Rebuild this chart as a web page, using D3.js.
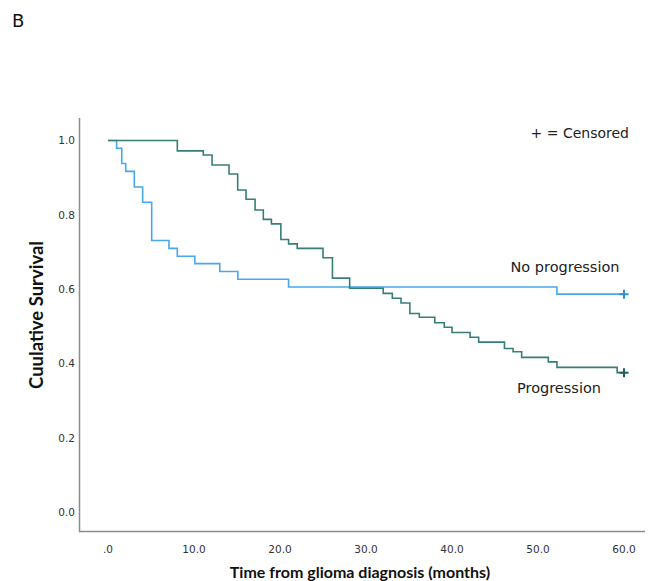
<!DOCTYPE html>
<html>
<head>
<meta charset="utf-8">
<script src="https://cdn.jsdelivr.net/npm/d3@7"></script>
<style>
  body { margin: 0; background: #fff; }
  svg { font-family: "DejaVu Sans", "Noto Sans", sans-serif; }
</style>
</head>
<body>
<div id="chart"></div>
<script>
// Kaplan-Meier step data (time in months, cumulative survival)
var noProgTimes = [0, 1.0, 1.6, 2.06, 3.06, 4.03, 5.08, 7.09, 8.06, 10.1, 13.0, 15.1, 21.0, 52.2, 60];
var noProgSurv  = [1, 0.979, 0.938, 0.917, 0.875, 0.834, 0.731, 0.710, 0.689, 0.669, 0.648, 0.627, 0.606, 0.587, 0.587];

var progTimes = [0, 8.06, 11.08, 12.1, 14.07, 15.08, 16.05, 17.1, 18.06, 19.0, 20.1, 21.0, 22.0, 25.0, 26.1, 28.1,
                 32.0, 33.06, 34.07, 35.1, 36.2, 38.0, 39.1, 40.0, 42.1, 43.1, 46.1, 47.1, 48.1, 51.2, 52.2, 59.2, 60];
var progSurv  = [1, 0.972, 0.961, 0.934, 0.910, 0.867, 0.842, 0.813, 0.788, 0.776, 0.734, 0.722, 0.710, 0.685, 0.630, 0.603,
                 0.589, 0.576, 0.563, 0.535, 0.525, 0.510, 0.498, 0.484, 0.471, 0.458, 0.441, 0.432, 0.417, 0.405, 0.390, 0.376, 0.376];

var xTicks = [0, 10, 20, 30, 40, 50, 60];
var yTicks = [0, 0.2, 0.4, 0.6, 0.8, 1.0];

var width = 649, height = 581;

var svg = d3.select("#chart")
    .append("svg")
    .attr("width", width)
    .attr("height", height);

// scales
var x = d3.scaleLinear().domain([0, 60]).range([108, 624]);
var y = d3.scaleLinear().domain([0, 1]).range([512.5, 140.5]);

// axis lines (left + bottom only, no ticks)
svg.append("line")
    .attr("x1", 79.5).attr("x2", 79.5)
    .attr("y1", 118).attr("y2", 532)
    .attr("stroke", "#8c8c8c").attr("stroke-width", 1.5);
svg.append("line")
    .attr("x1", 79).attr("x2", 645)
    .attr("y1", 531.5).attr("y2", 531.5)
    .attr("stroke", "#8c8c8c").attr("stroke-width", 1.5);

// tick labels
svg.append("g")
    .selectAll("text")
    .data(yTicks)
    .enter()
    .append("text")
    .attr("x", 75)
    .attr("y", d => y(d))
    .attr("dy", "0.35em")
    .attr("text-anchor", "end")
    .attr("font-size", 10.5)
    .attr("fill", "#333")
    .text(d => d3.format(".1f")(d));

svg.append("g")
    .selectAll("text")
    .data(xTicks)
    .enter()
    .append("text")
    .attr("x", d => x(d))
    .attr("y", 549)
    .attr("dy", "0.35em")
    .attr("text-anchor", "middle")
    .attr("font-size", 10.5)
    .attr("fill", "#333")
    .text(d => d === 0 ? ".0" : d3.format(".1f")(d));

// survival curves
var line = d3.line()
    .x(d => x(d[0]))
    .y(d => y(d[1]))
    .curve(d3.curveStepAfter);

var series = [
    { name: "No progression", times: noProgTimes, surv: noProgSurv, color: "#47a8eb", mark: "#2f8fd8" },
    { name: "Progression", times: progTimes, surv: progSurv, color: "#367f78", mark: "#1f5f58" }
];

series.forEach(function(s) {
    var pts = s.times.map((t, i) => [t, s.surv[i]]);
    svg.append("path")
        .datum(pts)
        .attr("fill", "none")
        .attr("stroke", s.color)
        .attr("stroke-width", 1.6)
        .attr("d", line);

    // censor marker at last point
    var last = pts[pts.length - 1];
    svg.append("path")
        .attr("transform", "translate(" + x(last[0]) + "," + y(last[1]) + ")")
        .attr("d", "M-4.5,0H4.5M0,-4.5V4.5")
        .attr("stroke", s.mark)
        .attr("stroke-width", 2)
        .attr("fill", "none");
});

// annotations
svg.append("text")
    .attr("x", 629).attr("y", 133)
    .attr("dy", "0.35em")
    .attr("text-anchor", "end")
    .attr("font-size", 14)
    .attr("fill", "#222")
    .text("+ = Censored");

svg.append("text")
    .attr("x", 565).attr("y", 267)
    .attr("dy", "0.35em")
    .attr("text-anchor", "middle")
    .attr("font-size", 14.5)
    .attr("fill", "#222")
    .text("No progression");

svg.append("text")
    .attr("x", 559).attr("y", 388)
    .attr("dy", "0.35em")
    .attr("text-anchor", "middle")
    .attr("font-size", 14.5)
    .attr("fill", "#222")
    .text("Progression");

// axis titles
svg.append("text")
    .attr("transform", "translate(37,315)rotate(-90)")
    .attr("dy", "0.35em")
    .attr("text-anchor", "middle")
    .attr("font-family", "Lato, sans-serif")
    .attr("font-size", 18.5)
    .attr("font-weight", "bold")
    .attr("fill", "#111")
    .text("Cuulative Survival");

svg.append("text")
    .attr("x", 360).attr("y", 572)
    .attr("dy", "0.35em")
    .attr("text-anchor", "middle")
    .attr("font-family", "Lato, sans-serif")
    .attr("font-size", 16)
    .attr("font-weight", "bold")
    .attr("fill", "#111")
    .text("Time from glioma diagnosis (months)");

// panel letter
svg.append("text")
    .attr("x", 12).attr("y", 21)
    .attr("dy", "0.35em")
    .attr("font-size", 18)
    .attr("fill", "#111")
    .text("B");
</script>
</body>
</html>
